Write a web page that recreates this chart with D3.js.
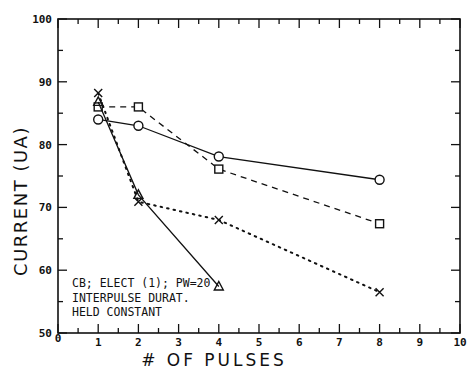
<!DOCTYPE html>
<html>
<head>
<meta charset="utf-8">
<script src="https://cdn.jsdelivr.net/npm/d3@7"></script>
<style>
  html, body { margin: 0; padding: 0; background: #fff; }
  svg { display: block; }
</style>
</head>
<body>
<div id="chart"></div>
<script>
const pulses = [1, 2, 4, 8];
const circleVals = [84, 83, 78.1, 74.4];
const squareVals = [86, 86, 76.1, 67.4];
const crossVals = [88.2, 70.9, 68, 56.5];
const triPulses = [1, 2, 4];
const triVals = [86.8, 72, 57.4];
const xTicks = [0, 1, 2, 3, 4, 5, 6, 7, 8, 9, 10];
const yTicks = [50, 60, 70, 80, 90, 100];
const notes = ["CB; ELECT (1); PW=20", "INTERPULSE DURAT.", "HELD CONSTANT"];

const W = 468, H = 370;
const x = d3.scaleLinear().domain([0, 10]).range([58, 460]);
const y = d3.scaleLinear().domain([50, 100]).range([333, 19]);
const ink = "#111";

const svg = d3.select("#chart").append("svg")
  .attr("width", W).attr("height", H);

// frame
svg.append("rect")
  .attr("x", x(0)).attr("y", y(100))
  .attr("width", x(10) - x(0)).attr("height", y(50) - y(100))
  .attr("fill", "none").attr("stroke", ink).attr("stroke-width", 1.6);

// ticks (inside the frame)
const ticksG = svg.append("g").attr("stroke", ink).attr("stroke-width", 1.3);
d3.range(0, 10.01, 0.5).forEach(v => {
  const major = Math.abs(v - Math.round(v)) < 1e-6;
  const len = major ? 9 : 5;
  ticksG.append("line").attr("x1", x(v)).attr("x2", x(v))
    .attr("y1", y(50)).attr("y2", y(50) - len);
  ticksG.append("line").attr("x1", x(v)).attr("x2", x(v))
    .attr("y1", y(100)).attr("y2", y(100) + len);
});
d3.range(50, 100.01, 5).forEach(v => {
  const major = v % 10 === 0;
  const len = major ? 9 : 5;
  ticksG.append("line").attr("y1", y(v)).attr("y2", y(v))
    .attr("x1", x(0)).attr("x2", x(0) + len);
  ticksG.append("line").attr("y1", y(v)).attr("y2", y(v))
    .attr("x1", x(10)).attr("x2", x(10) - len);
});

const tickFont = "'DejaVu Sans Mono', monospace";
svg.append("g").selectAll("text").data(xTicks).join("text")
  .attr("x", d => x(d)).attr("y", d => d === 0 ? 342 : 346)
  .attr("text-anchor", "middle")
  .style("font-family", tickFont).style("font-size", "11px").style("font-weight", "bold")
  .attr("fill", ink)
  .text(d => d);

svg.append("g").selectAll("text").data(yTicks).join("text")
  .attr("x", d => x(0) - 6).attr("y", d => y(d) + 4)
  .attr("text-anchor", "end")
  .style("font-family", tickFont).style("font-size", "11px").style("font-weight", "bold")
  .attr("fill", ink)
  .text(d => d);

// axis titles
svg.append("text")
  .attr("transform", `translate(27, 201) rotate(-90)`)
  .attr("text-anchor", "middle")
  .style("font-family", "'DejaVu Sans', sans-serif").style("font-size", "18px")
  .style("letter-spacing", "1.5px")
  .attr("fill", ink)
  .text("CURRENT (UA)");

svg.append("text")
  .attr("x", 214).attr("y", 366)
  .attr("text-anchor", "middle")
  .style("font-family", "'DejaVu Sans', sans-serif").style("font-size", "17px")
  .style("letter-spacing", "3px")
  .attr("fill", ink)
  .text("# OF PULSES");

// annotation
svg.append("g").selectAll("text").data(notes).join("text")
  .attr("x", 72).attr("y", (d, i) => 287 + i * 14.5)
  .style("font-family", tickFont).style("font-size", "11.5px")
  .attr("fill", ink)
  .text(d => d);

// series
const line = d3.line().x(d => x(d[0])).y(d => y(d[1]));
const series = [
  { xs: pulses, ys: circleVals, dash: null, mark: "circle" },
  { xs: pulses, ys: squareVals, dash: "6,5", mark: "square" },
  { xs: pulses, ys: crossVals, dash: "1.6,5", mark: "cross" },
  { xs: triPulses, ys: triVals, dash: null, mark: "triangle" }
];

series.forEach(s => {
  const pts = s.xs.map((v, i) => [v, s.ys[i]]);
  svg.append("path")
    .attr("d", line(pts))
    .attr("fill", "none").attr("stroke", ink)
    .attr("stroke-width", s.mark === "cross" ? 2 : 1.3)
    .attr("stroke-linecap", s.mark === "cross" ? "round" : "butt")
    .attr("stroke-dasharray", s.dash);

  const g = svg.append("g").attr("stroke", ink).attr("stroke-width", 1.4).attr("fill", "#fff");
  pts.forEach(p => {
    const cx = x(p[0]), cy = y(p[1]);
    if (s.mark === "circle") {
      g.append("circle").attr("cx", cx).attr("cy", cy).attr("r", 4.5);
    } else if (s.mark === "square") {
      g.append("rect").attr("x", cx - 4).attr("y", cy - 4).attr("width", 8).attr("height", 8);
    } else if (s.mark === "cross") {
      g.append("path").attr("fill", "none")
        .attr("d", `M${cx - 4},${cy - 4}L${cx + 4},${cy + 4}M${cx - 4},${cy + 4}L${cx + 4},${cy - 4}`);
    } else {
      g.append("path").attr("fill", "none")
        .attr("d", `M${cx},${cy - 5}L${cx + 4.5},${cy + 3.5}L${cx - 4.5},${cy + 3.5}Z`);
    }
  });
});
</script>
</body>
</html>
